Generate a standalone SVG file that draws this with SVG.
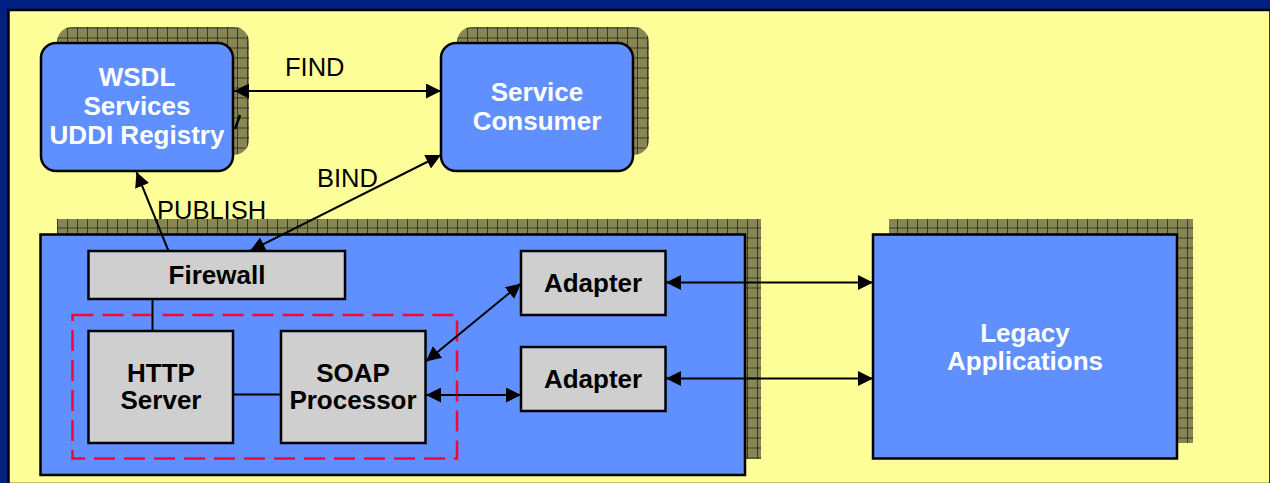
<svg xmlns="http://www.w3.org/2000/svg" width="1270" height="483" viewBox="0 0 1270 483">
  <defs>
    <style>
      .blue { fill: #608fff; stroke: #000; stroke-width: 2.5; }
      .gray { fill: #cfcfcf; stroke: #000; stroke-width: 2.5; }
      .shadow { fill: url(#grid); }
      .wlabel { font-family: "Liberation Sans", Arial, sans-serif; font-size: 26px; font-weight: bold; fill: #fff; text-anchor: middle; }
      .blabel { font-family: "Liberation Sans", Arial, sans-serif; font-size: 26px; font-weight: bold; fill: #000; text-anchor: middle; }
      .elabel { font-family: "Liberation Sans", Arial, sans-serif; font-size: 25.5px; fill: #000; }
      .link { stroke: #000; stroke-width: 2; fill: none; }
      .arrow { marker-end: url(#head); marker-start: url(#head); }
    </style>
    <!-- fine olive checker used inside the shadow grid -->
    <pattern id="checker" width="2" height="2" patternUnits="userSpaceOnUse">
      <rect width="2" height="2" fill="#98985f"/>
      <rect width="1" height="1" fill="#75754a"/>
      <rect x="1" y="1" width="1" height="1" fill="#75754a"/>
    </pattern>
    <!-- drop-shadow texture: checker with a dark 10px grid -->
    <pattern id="grid" x="7" y="7.5" width="10" height="10" patternUnits="userSpaceOnUse">
      <rect width="10" height="10" fill="url(#checker)"/>
      <path d="M0.5,0 V10 M0,0.5 H10" stroke="#3a3a25" stroke-width="1"/>
    </pattern>
    <marker id="head" markerUnits="userSpaceOnUse" markerWidth="15" markerHeight="15" refX="15" refY="7.5" orient="auto-start-reverse">
      <path d="M0,0 L15,7.5 L0,15 z" fill="#000"/>
    </marker>
  </defs>

  <!-- slide frame -->
  <rect width="1270" height="483" fill="#002181"/>
  <rect x="8.5" y="10" width="1262" height="474" fill="#ffff99" stroke="#000" stroke-width="2.5"/>

  <g id="registry">
    <rect class="shadow" x="57" y="27" width="192" height="128" rx="15"/>
    <rect class="blue" x="41" y="43" width="192" height="128" rx="15"/>
    <text class="wlabel" x="137" y="86">WSDL</text>
    <text class="wlabel" x="137" y="115">Services</text>
    <text class="wlabel" x="137" y="143.5">UDDI Registry</text>
  </g>

  <g id="consumer">
    <rect class="shadow" x="457" y="27" width="192" height="128" rx="15"/>
    <rect class="blue" x="441" y="43" width="192" height="128" rx="15"/>
    <text class="wlabel" x="537" y="101">Service</text>
    <text class="wlabel" x="537" y="129.5">Consumer</text>
  </g>

  <g id="provider">
    <rect class="shadow" x="57" y="219" width="704" height="240"/>
    <rect class="blue" x="40.5" y="234.5" width="704.5" height="240.5"/>
  </g>

  <g id="legacy">
    <rect class="shadow" x="889" y="219" width="304" height="224"/>
    <rect class="blue" x="873" y="234.5" width="304" height="224"/>
    <text class="wlabel" x="1025" y="341.5">Legacy</text>
    <text class="wlabel" x="1025" y="370">Applications</text>
  </g>

  <g id="firewall">
    <rect class="gray" x="88.5" y="251" width="256.5" height="48"/>
    <text class="blabel" x="217" y="283.5">Firewall</text>
  </g>

  <g id="soap-stack">
    <rect x="72.5" y="315" width="384.5" height="143.5" fill="none" stroke="#ff0038" stroke-width="2.5" stroke-dasharray="21 9"/>
  </g>

  <g id="http-server">
    <rect class="gray" x="88.5" y="331" width="144.5" height="112"/>
    <text class="blabel" x="161" y="381.5">HTTP</text>
    <text class="blabel" x="161" y="409">Server</text>
  </g>

  <g id="soap-processor">
    <rect class="gray" x="281" y="331" width="144.5" height="112"/>
    <text class="blabel" x="353" y="381.5">SOAP</text>
    <text class="blabel" x="353" y="409">Processor</text>
  </g>

  <g id="adapter-1">
    <rect class="gray" x="521" y="251" width="144.5" height="64"/>
    <text class="blabel" x="593" y="292">Adapter</text>
  </g>

  <g id="adapter-2">
    <rect class="gray" x="521" y="347" width="144.5" height="64"/>
    <text class="blabel" x="593" y="388">Adapter</text>
  </g>

  <g id="connectors">
    <!-- FIND -->
    <line class="link arrow" x1="234" y1="91" x2="441" y2="91"/>
    <text class="elabel" x="285" y="76">FIND</text>
    <!-- BIND -->
    <line class="link arrow" x1="250" y1="251" x2="441" y2="155"/>
    <text class="elabel" x="317" y="187">BIND</text>
    <!-- PUBLISH -->
    <line class="link" x1="168.5" y1="251" x2="136.5" y2="172" marker-end="url(#head)"/>
    <text class="elabel" x="157" y="219">PUBLISH</text>
    <!-- stray stroke beside the registry -->
    <line x1="235" y1="129" x2="240" y2="115" stroke="#000" stroke-width="2.5"/>
    <!-- internal links -->
    <line class="link" x1="152.5" y1="299" x2="152.5" y2="331"/>
    <line class="link" x1="233" y1="394.5" x2="281" y2="394.5"/>
    <line class="link arrow" x1="426" y1="361.5" x2="521" y2="283.5"/>
    <line class="link arrow" x1="426" y1="395" x2="521" y2="395"/>
    <!-- adapters to legacy -->
    <line class="link arrow" x1="666" y1="282.5" x2="873" y2="282.5"/>
    <line class="link arrow" x1="666" y1="378.5" x2="873" y2="378.5"/>
  </g>
</svg>
